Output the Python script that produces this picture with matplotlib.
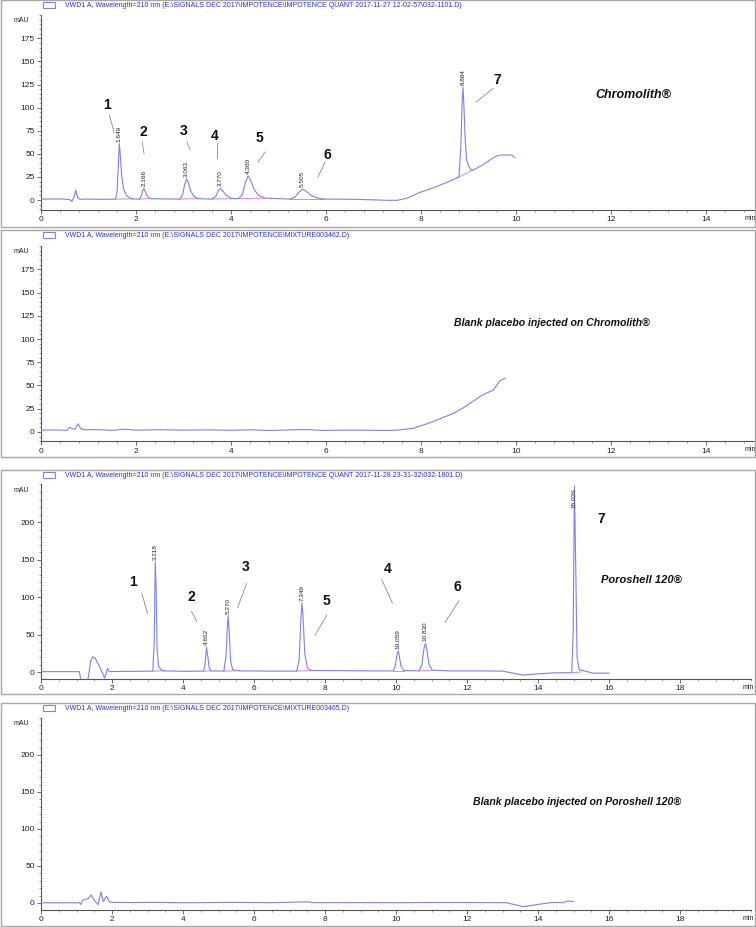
import matplotlib
matplotlib.use('Agg')
import matplotlib.pyplot as plt
from matplotlib import font_manager
from matplotlib.patches import Rectangle
from matplotlib.ticker import MultipleLocator

names = {f.name for f in font_manager.fontManager.ttflist}
NARROW = 'Liberation Sans Narrow' if 'Liberation Sans Narrow' in names else 'Liberation Sans'
plt.rcParams['font.family'] = ['Liberation Sans', 'DejaVu Sans']

W, H = 756, 927
LINE = '#7f7ff2'
BLUE = '#2b2bf0'
PINK = '#f080c0'
GREY = '#8a8a8a'

# ---- header texts ----
titles = [
    'VWD1 A, Wavelength=210 nm (E:\\SIGNALS DEC 2017\\IMPOTENCE\\IMPOTENCE QUANT 2017-11-27 12-02-57\\032-1101.D)',
    'VWD1 A, Wavelength=210 nm (E:\\SIGNALS DEC 2017\\IMPOTENCE\\MIXTURE003462.D)',
    'VWD1 A, Wavelength=210 nm (E:\\SIGNALS DEC 2017\\IMPOTENCE\\IMPOTENCE QUANT 2017-11-28 23-31-32\\032-1801.D)',
    'VWD1 A, Wavelength=210 nm (E:\\SIGNALS DEC 2017\\IMPOTENCE\\MIXTURE003465.D)',
]
column_names = ['Chromolith\u00ae', 'Blank placebo injected on Chromolith\u00ae',
                'Poroshell 120\u00ae', 'Blank placebo injected on Poroshell 120\u00ae']

# ---- panel 1 : mixture on Chromolith ----
t1 = [0, 0.4, 0.6, 0.65, 0.70, 0.73, 0.77, 0.82, 1.0, 1.3, 1.57, 1.60, 1.625, 1.649, 1.67, 1.70, 1.74,
      1.80, 1.88, 1.95, 2.07, 2.11, 2.14, 2.166, 2.19, 2.23, 2.29, 2.6, 2.92, 2.98, 3.02, 3.063, 3.10,
      3.15, 3.22, 3.30, 3.60, 3.68, 3.73, 3.77, 3.82, 3.90, 4.0, 4.08, 4.16, 4.24, 4.31, 4.36, 4.41,
      4.48, 4.58, 4.72, 5.0, 5.25, 5.35, 5.44, 5.505, 5.57, 5.67, 5.80, 5.95, 6.2, 6.6, 7.0, 7.3, 7.5,
      7.7, 7.98, 8.3, 8.58, 8.74, 8.80, 8.84, 8.865, 8.884, 8.905, 8.93, 8.96, 9.0, 9.05, 9.1, 9.3,
      9.56, 9.66, 9.91, 9.98]
y1 = [1, 1.2, 0.5, -1.5, 4, 10.8, 3, 0.8, 1, 0.8, 1, 8, 35, 61, 48, 25, 12,
      5, 2, 1.2, 1, 4, 10, 12.6, 10, 5, 1.5, 1.2, 1, 5, 16, 22.7, 19,
      10, 4, 1.5, 1, 4, 10, 12.6, 10.5, 5, 2, 1.5, 1.5, 6, 20, 26, 22,
      12, 5, 2, 1.5, 1, 3.5, 9, 11.6, 10, 5.5, 2.5, 1, 1, 0.8, 0.2, -0.3, -0.3,
      2, 8.3, 14, 19.8, 23.5, 25, 60, 105, 122, 100, 65, 44, 37, 33, 32.5, 38,
      47, 48.7, 48.7, 46]
rt1 = [1.649, 2.166, 3.063, 3.770, 4.360, 5.505, 8.884]
rt1_lab = ['1.649', '2.166', '3.063', '3.770', '4.360', '5.505', '8.884']
apex1 = [61, 12.6, 22.7, 12.6, 26, 11.6, 122]
base1_t0 = [1.57, 2.07, 2.92, 3.60, 4.16, 5.25, 8.74]
base1_t1 = [1.95, 2.29, 3.30, 4.08, 4.72, 5.95, 9.10]
base1_y0 = [1, 1, 1, 1, 1.5, 1, 23.5]
base1_y1 = [1.2, 1.5, 1.5, 1.5, 2, 1, 32.5]
num1_x = [1.39, 2.15, 3.01, 3.66, 4.60, 6.02, 9.60]
num1_y = [103, 74, 75, 69, 67, 49, 130]
lead1 = [((1.44, 92), (1.54, 73)), ((2.13, 63), (2.17, 50)), ((3.07, 63), (3.14, 54)),
         ((3.71, 62), (3.71, 46)), ((4.72, 52), (4.57, 41)), ((5.98, 41), (5.83, 25)),
         ((9.52, 121), (9.16, 106))]

# ---- panel 2 : blank on Chromolith ----
t2 = [0, 0.3, 0.55, 0.60, 0.66, 0.72, 0.78, 0.83, 0.9, 1.2, 1.5, 1.75, 2.0, 2.5, 3.0, 3.5, 4.0, 4.4,
      4.8, 5.2, 5.6, 5.9, 6.5, 7.0, 7.3, 7.5, 7.84, 8.19, 8.68, 8.89, 9.3, 9.52, 9.59, 9.66, 9.77]
y2 = [2, 2.2, 1.8, 5, 3.5, 3, 9, 4, 2.5, 2.5, 1.8, 3, 2, 2.5, 2, 2.3, 1.8, 2.4,
      1.6, 2.2, 2.6, 1.7, 2, 1.8, 1.7, 2, 4, 10, 20, 26, 40, 45, 50, 55, 58]

# ---- panel 3 : mixture on Poroshell 120 ----
t3 = [0, 1.08, 1.14, 1.30, 1.34, 1.40, 1.46, 1.53, 1.62, 1.72, 1.79, 1.83, 1.87, 1.92, 2.2, 2.8,
      3.15, 3.19, 3.218, 3.245, 3.27, 3.31, 3.38, 3.5, 4.0, 4.58, 4.62, 4.662, 4.70, 4.74, 4.8, 5.15,
      5.21, 5.25, 5.27, 5.30, 5.34, 5.40, 5.6, 6.5, 7.2, 7.27, 7.32, 7.349, 7.38, 7.43, 7.50, 7.6,
      8.5, 9.5, 9.92, 9.98, 10.03, 10.059, 10.09, 10.14, 10.22, 10.65, 10.73, 10.79, 10.83, 10.87,
      10.93, 11.02, 11.5, 12.5, 13.0, 13.3, 13.58, 14.0, 14.5, 14.95, 14.99, 15.026, 15.06, 15.10,
      15.16, 15.3, 15.55, 16.0]
y3 = [0.5, 0.5, -15, -15, -5, 15, 20.4, 18, 10, 0, -8, -3, 5, 0.5, 0.8, 1,
      1.2, 40, 147, 110, 30, 8, 3, 1.5, 1, 1.2, 10, 33, 20, 5, 1.5, 1.2,
      20, 60, 75, 55, 15, 3, 1.5, 1.2, 1.2, 15, 70, 92, 75, 25, 6, 2,
      1.8, 1.5, 1.5, 8, 24, 28, 22, 8, 2, 1.5, 10, 32, 38, 30,
      10, 2.5, 1.5, 1.5, 1.2, -1.5, -4, -2.5, -1, -1, 50, 248, 150, 20,
      3, 1.5, -1.5, -1.5]
rt3 = [3.218, 4.662, 5.270, 7.349, 10.059, 10.830, 15.026]
rt3_lab = ['3.218', '4.662', '5.270', '7.349', '10.059', '10.830', '15.026']
apex3 = [147, 33, 75, 92, 28, 38, 216]
base3_t0 = [3.15, 4.58, 5.15, 7.20, 9.92, 10.65, 14.95]
base3_t1 = [3.50, 4.80, 5.45, 7.60, 10.22, 11.02, 15.20]
base3_y0 = [1.2, 1.2, 1.2, 1.2, 1.5, 1.5, -1]
base3_y1 = [1.5, 1.5, 1.5, 2, 1.5, 2.5, 0]
num3_x = [2.60, 4.24, 5.75, 9.77, 8.03, 11.73, 15.77]
num3_y = [120, 100, 140, 138, 95, 114, 204]
lead3 = [((2.84, 105), (3.0, 78)), ((4.24, 81), (4.39, 67)), ((5.79, 118), (5.54, 86)),
         ((9.60, 123), (9.90, 92)), ((8.05, 76), (7.72, 49)), ((11.77, 95), (11.38, 66))]

# ---- panel 4 : blank on Poroshell 120 ----
t4 = [0, 1.08, 1.12, 1.16, 1.22, 1.33, 1.41, 1.47, 1.55, 1.61, 1.69, 1.75, 1.85, 1.92, 2.0, 2.5,
      3.2, 4.0, 5.4, 6.5, 7.5, 7.7, 9.0, 10.0, 11.0, 12.0, 13.1, 13.59, 14.05, 14.42, 14.7, 14.84, 15.0]
y4 = [0.3, 0.3, -2, 3, 4.5, 6, 10.8, 6, 1, -2.3, 15, 1.8, 9, 2, 0.8, 0.6,
      0.8, 0.3, 0.8, 0.4, 1.5, 0.4, 0.5, 0.4, 0.6, 0.6, 0.4, -5, -1.6, 0.8, 0.4, 2.6, 2]

# panel frames (pixels: left, top, right, bottom) and axes boxes
frames = [(1, 0, 755, 227), (1, 230, 755, 457), (1, 470, 755, 694), (1, 703, 755, 926)]
axboxes = [(41, 15.2, 753.5, 210.2), (41, 246, 753.5, 441.3), (41, 484.5, 751, 679), (41, 718, 751, 910)]
xlims = [(0, 15), (0, 15), (0, 20), (0, 20)]
ylims = [(-11, 200), (-10, 200), (-9.3, 250), (-9.5, 250)]
ymajor = [25, 25, 50, 50]
yminor = [5, 5, 10, 10]
xminor = [0.4, 0.4, 0.5, 0.5]
label_xy = [(12.46, 114), (10.76, 117), (16.92, 123), (15.09, 137)]
label_size = [9, 7.6, 8, 7.6]

fig = plt.figure(figsize=(W / 100, H / 100), dpi=100)
renderer = fig.canvas.get_renderer()

# title size: fit first header to its width in the reference (65 -> 462 px)
probe = fig.text(0, 0, titles[0], fontsize=10, family=[NARROW, 'DejaVu Sans'])
TSIZE = 10 * 397.0 / probe.get_window_extent(renderer).width
probe.remove()


def px_axes(box):  # pixel box -> figure axes
    l, t, r, b = box
    return fig.add_axes([l / W, 1 - b / H, (r - l) / W, (b - t) / H])


def draw_frame(i):  # grey box + header line
    l, t, r, b = frames[i]
    fig.patches.append(Rectangle((l / W, 1 - b / H), (r - l) / W, (b - t) / H, transform=fig.transFigure,
                                 fill=False, edgecolor='#a8a8a8', lw=1.0))
    fig.patches.append(Rectangle((43 / W, 1 - (t + 8) / H), 12 / W, 6 / H, transform=fig.transFigure,
                                 fill=False, edgecolor=LINE, lw=0.8))
    fig.text(65 / W, 1 - (t + 5.5) / H, titles[i], color=BLUE, fontsize=TSIZE, family=[NARROW, 'DejaVu Sans'],
             ha='left', va='center')


def style_axes(ax, i):
    ax.set_xlim(*xlims[i])
    ax.set_ylim(*ylims[i])
    for s in ['top', 'right']:
        ax.spines[s].set_visible(False)
    for s in ['left', 'bottom']:
        ax.spines[s].set_color('#555555')
        ax.spines[s].set_linewidth(0.8)
    ax.xaxis.set_major_locator(MultipleLocator(2))
    ax.xaxis.set_minor_locator(MultipleLocator(xminor[i]))
    ax.yaxis.set_major_locator(MultipleLocator(ymajor[i]))
    ax.yaxis.set_minor_locator(MultipleLocator(yminor[i]))
    ax.tick_params(which='major', length=3, width=0.6, labelsize=6, pad=1.5, colors='#555555', labelcolor='#222222')
    ax.tick_params(which='minor', length=1.5, width=0.5, colors='#777777')
    xt = [v for v in ax.get_xticks() if 0 <= v < xlims[i][1] - 0.5]
    ax.set_xticks(xt)
    ax.set_xticklabels([f'{v:g}' for v in xt])
    ax.set_yticks([v for v in ax.get_yticks() if v >= 0 and v <= ylims[i][1] - 10])
    ax.annotate('mAU', xy=(0, 1), xycoords='axes fraction', xytext=(-8.5, -4), textcoords='offset points',
                ha='right', va='center', fontsize=5, color='#222222')
    ax.annotate('min', xy=(1, 0), xycoords='axes fraction', xytext=(2, -6), textcoords='offset points',
                ha='right', va='center', fontsize=5, color='#222222', annotation_clip=False)
    ax.text(*label_xy[i], column_names[i], fontsize=label_size[i], fontweight='bold', style='italic',
            ha='center', va='center', color='#111111')
    ax.patch.set_alpha(0)


def peak_marks(ax, rts, labs, apex, t0, t1, b0, b1, nx, ny, lead):
    for a, b, c, d in zip(t0, t1, b0, b1):
        ax.plot([a, b], [c, d], color=PINK, lw=0.7, zorder=2)
    for r, s, h in zip(rts, labs, apex):
        ax.annotate(s, xy=(r, h), xytext=(0, 1.5), textcoords='offset points', rotation=90,
                    ha='center', va='bottom', fontsize=4.6, color='#222222')
    for k, (x, y) in enumerate(zip(nx, ny)):
        ax.text(x, y, str(k + 1), fontsize=10, fontweight='bold', family=[NARROW, 'DejaVu Sans'],
                ha='center', va='center', color='#111111')
    for (p, q) in lead:
        ax.plot([p[0], q[0]], [p[1], q[1]], color=GREY, lw=0.6)


traces = [(t1, y1), (t2, y2), (t3, y3), (t4, y4)]
for i in range(4):
    draw_frame(i)
    ax = px_axes(axboxes[i])
    style_axes(ax, i)
    ax.plot(traces[i][0], traces[i][1], color=LINE, lw=0.8, zorder=3)
    if i == 0:
        peak_marks(ax, rt1, rt1_lab, apex1, base1_t0, base1_t1, base1_y0, base1_y1, num1_x, num1_y, lead1)
    if i == 2:
        peak_marks(ax, rt3, rt3_lab, apex3, base3_t0, base3_t1, base3_y0, base3_y1, num3_x, num3_y, lead3)

fig.savefig('out.png', dpi=100)
